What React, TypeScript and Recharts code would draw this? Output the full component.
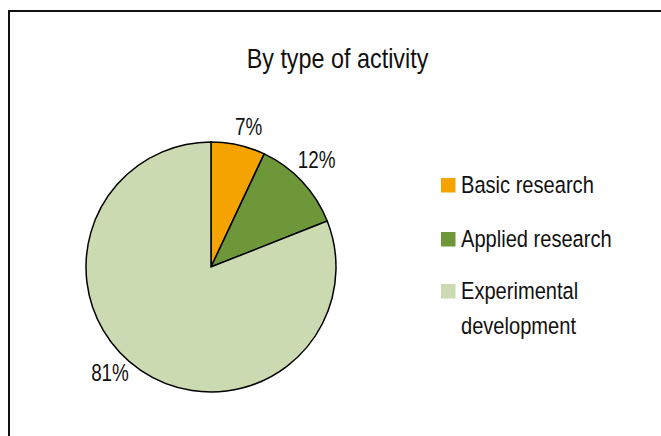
import { PieChart, Pie, Cell } from "recharts";

const categories = ["Basic research", "Applied research", "Experimental development"];
const legendLines = [["Basic research"], ["Applied research"], ["Experimental", "development"]];
const shares = [7, 12, 81];
const colors = ["#F4A300", "#6E9739", "#CCDAB1"];

const FONT = '"Liberation Sans", Arial, sans-serif';
const NARROW = 0.82; // mimics Arial Narrow

const data = categories.map((name, i) => ({ name, value: shares[i] }));

const RAD = Math.PI / 180;
// Excel "best fit" style nudges per slice
const nudges = [
  [6, 10],
  [0, 0],
  [-19.5, -5.5],
];

const renderLabel = (props: any) => {
  const { cx, cy, midAngle, outerRadius, index, value } = props;
  const r = outerRadius + 20;
  const x = cx + r * Math.cos(-midAngle * RAD) + nudges[index][0];
  const y = cy + r * Math.sin(-midAngle * RAD) + nudges[index][1];
  return (
    <text
      transform={`translate(${x},${y}) scale(${NARROW},1)`}
      fill="#111"
      fontSize={23}
      fontFamily={FONT}
      textAnchor="middle"
    >
      {`${value}%`}
    </text>
  );
};

const legendRows = [178, 232, 284];

export default function App() {
  return (
    <div
      style={{
        position: "absolute",
        left: 0,
        top: 0,
        width: 661,
        height: 436,
        overflow: "hidden",
        background: "#fff",
      }}
    >
      <div
        style={{
          position: "absolute",
          left: 8,
          top: 10,
          width: 720,
          height: 500,
          borderLeft: "2px solid #111",
          borderTop: "2px solid #111",
        }}
      />
      <div style={{ position: "absolute", left: 0, top: 0 }}>
        <PieChart width={661} height={436} margin={{ top: 0, right: 0, bottom: 0, left: 0 }}>
          <Pie
            data={data}
            dataKey="value"
            nameKey="name"
            cx={211}
            cy={267}
            outerRadius={125}
            startAngle={90}
            endAngle={-270}
            stroke="#000"
            strokeWidth={1.5}
            label={renderLabel}
            labelLine={false}
            isAnimationActive={false}
          >
            {data.map((d, i) => (
              <Cell key={`cell-${i}`} fill={colors[i]} />
            ))}
          </Pie>
        </PieChart>
      </div>
      <svg
        width={661}
        height={436}
        style={{ position: "absolute", left: 0, top: 0, pointerEvents: "none" }}
      >
        <text
          transform={`translate(337.5,67.5) scale(${NARROW},1)`}
          textAnchor="middle"
          fontFamily={FONT}
          fontSize={28.5}
          fill="#111"
        >
          By type of activity
        </text>
        {legendLines.map((lines, i) => (
          <g key={`leg-${i}`}>
            <rect x={441} y={legendRows[i]} width={14.5} height={14.5} fill={colors[i]} />
            {lines.map((line, j) => (
              <text
                key={`l-${j}`}
                transform={`translate(461,${legendRows[i] + 15 + j * 35}) scale(${NARROW},1)`}
                fontFamily={FONT}
                fontSize={24.5}
                fill="#111"
              >
                {line}
              </text>
            ))}
          </g>
        ))}
      </svg>
    </div>
  );
}
